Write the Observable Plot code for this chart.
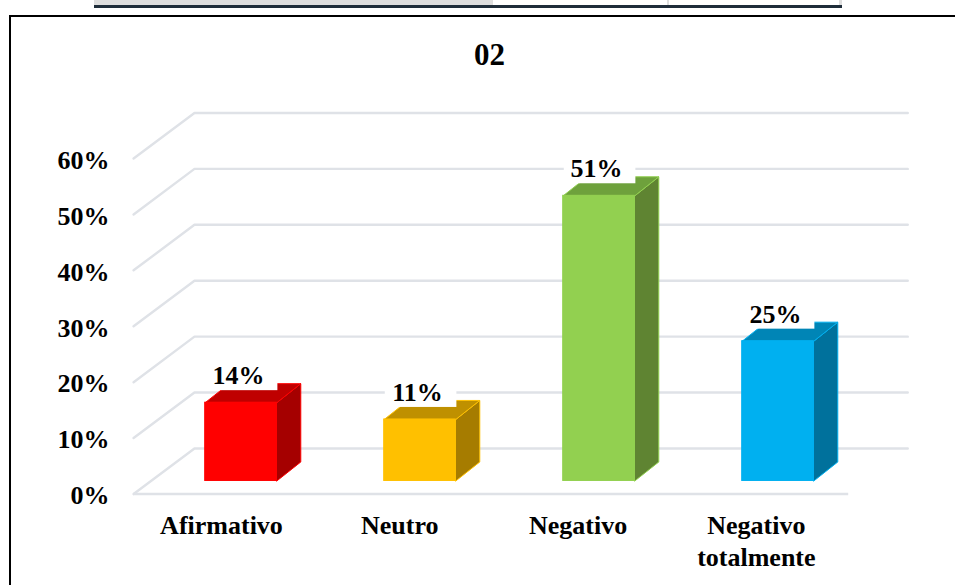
<!DOCTYPE html>
<html>
<head>
<meta charset="utf-8">
<script src="https://cdn.jsdelivr.net/npm/d3@7"></script>
<script src="https://cdn.jsdelivr.net/npm/@observablehq/plot@0.6"></script>
<style>
html,body{margin:0;padding:0;background:#fff;width:955px;height:585px;overflow:hidden}
#wrap{position:relative;width:955px;height:585px}
#wrap svg{position:absolute;left:0;top:0}
.b{position:absolute}
</style>
</head>
<body>
<div id="wrap">
  <div class="b" style="left:94px;top:0;width:399px;height:5px;background:#dedede"></div>
  <div class="b" style="left:667px;top:0;width:2px;height:5px;background:#dedede"></div>
  <div class="b" style="left:839px;top:0;width:3px;height:5px;background:#dedede"></div>
  <div class="b" style="left:94px;top:5px;width:748px;height:3px;background:#1f2d3a"></div>
  <div class="b" style="left:9px;top:15px;width:946px;height:2px;background:#000"></div>
  <div class="b" style="left:9px;top:15px;width:2px;height:570px;background:#000"></div>
  <div class="b" style="left:489.5px;top:39px;transform:translateX(-50%);font:bold 31px 'Liberation Serif';line-height:31px;color:#000;z-index:2">02</div>
</div>
<script>
const categories = ["Afirmativo", "Neutro", "Negativo", "Negativo\ntotalmente"];
const values = [14, 11, 51, 25];
const valueLabels = ["14%", "11%", "51%", "25%"];
const yTicks = [0, 10, 20, 30, 40, 50, 60];
const frontColors = ["#ff0000", "#ffc000", "#92d050", "#00b0f0"];
const sideColors = ["#a50000", "#a67c00", "#5f8432", "#00719c"];
const topColors = ["#bf0000", "#bf9000", "#6ea13c", "#0085b6"];

// perspective of the chart box, in scale units (category steps and percent)
const wallDx = 0.34, wallDy = 8.14;
const floorL = -0.6, floorR = 3.395, wallR = 3.725;
const barHalf = 0.2, barDx = 0.134, barDy = 3.4, barLift = 2.33;
const labelGap = 2.15, labelBox = 5, labelMid = 2.65;
const serif = "'Liberation Serif'";

const gridRows = yTicks.flatMap(t => [
  {t, x: floorL, y: t},
  {t, x: floorL + wallDx, y: t + wallDy},
  {t, x: wallR, y: t + wallDy}
]);

const bars = categories.map((c, i) => ({
  c, i, v: values[i], label: valueLabels[i],
  front: frontColors[i], side: sideColors[i], top: topColors[i]
}));

const faces = bars.flatMap(b => {
  const l = b.i - barHalf, r = b.i + barHalf;
  const y0 = barLift, y1 = b.v + barLift;
  return [
    Plot.line([[r,y0],[r+barDx,y0+barDy],[r+barDx,y1+barDy],[r,y1]], {
      x: d => d[0], y: d => d[1], curve: "linear-closed", fill: b.side, stroke: b.front, strokeWidth: 1
    }),
    Plot.line([[l,y1],[l+barDx,y1+barDy],[r+barDx,y1+barDy],[r,y1]], {
      x: d => d[0], y: d => d[1], curve: "linear-closed", fill: b.top, stroke: b.front, strokeWidth: 1
    }),
    Plot.rect([b], {
      x1: () => l, x2: () => r, y1: () => y0, y2: () => y1,
      fill: b.front, stroke: b.front, strokeWidth: 1
    })
  ];
});

const chart = Plot.plot({
  width: 955, height: 585,
  margin: 0,
  style: {background: "transparent", overflow: "visible"},
  x: {type: "linear", domain: [0, 3], range: [240.5, 777.5], axis: null},
  y: {type: "linear", domain: [0, 60], range: [493.5, 158], label: null},
  marks: [
    Plot.line(gridRows, {x: "x", y: "y", z: "t", stroke: "#dfe2e7", strokeWidth: 2.4, strokeLinejoin: "miter"}),
    Plot.ruleY([0], {x1: floorL, x2: floorR, stroke: "#dfe2e7", strokeWidth: 2.4}),
    ...faces,
    Plot.rect(bars, {
      x1: d => d.i - barHalf + 0.006, x2: d => d.i + barHalf + 0.006,
      y1: d => d.v + barLift + labelGap, y2: d => d.v + barLift + labelGap + labelBox,
      fill: "#fff"
    }),
    Plot.text(bars, {
      x: d => d.i - 0.014, y: d => d.v + barLift + labelGap + labelMid, text: "label",
      fontFamily: serif, fontWeight: "bold", fontSize: 26, fill: "#000"
    }),
    Plot.axisY({
      ticks: yTicks, tickFormat: d => d + "%", anchor: "left",
      tickSize: 0, tickPadding: 0, dx: 109, dy: 2, label: null,
      fontFamily: serif, fontWeight: "bold", fontSize: 26, fill: "#000"
    }),
    Plot.text(bars, {
      x: d => d.i * 0.996 - 0.109, y: () => -3.05, text: "c",
      lineAnchor: "top", lineHeight: 1.23,
      fontFamily: serif, fontWeight: "bold", fontSize: 26, fill: "#000"
    })
  ]
});
document.getElementById("wrap").appendChild(chart);
</script>
</body>
</html>
